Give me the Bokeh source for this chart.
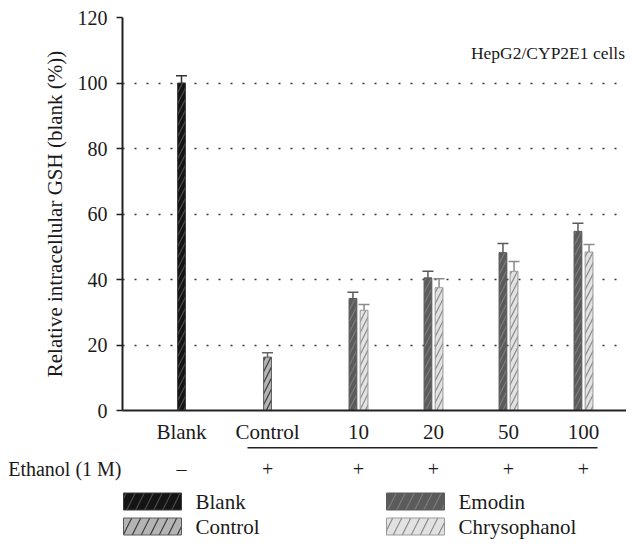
from bokeh.plotting import figure
from bokeh.models import (Range1d, FixedTicker, CustomJSTickFormatter, Whisker,
                          TeeHead, ColumnDataSource)
from bokeh.layouts import column
from bokeh.embed import file_html
from bokeh.resources import INLINE
from bokeh.core.properties import value

# ---------------- data ----------------
categories = ["Blank", "Control", "10", "20", "50", "100"]
ethanol = ["\u2013", "+", "+", "+", "+", "+"]
blank_mean = [100.0]
blank_err = [2.2]
control_mean = [16.3]
control_err = [1.3]
doses = ["10", "20", "50", "100"]
emodin_mean = [34.2, 40.5, 48.2, 54.7]
emodin_err = [1.9, 2.0, 2.8, 2.5]
chrys_mean = [30.6, 37.5, 42.5, 48.4]
chrys_err = [1.8, 2.7, 3.0, 2.3]
y_ticks = [0, 20, 40, 60, 80, 100, 120]
legend_labels = ["Blank", "Control", "Emodin", "Chrysophanol"]
cell_line = "HepG2/CYP2E1 cells"
y_label = "Relative intracellular GSH (blank (%))"
ethanol_label = "Ethanol (1 M)"

# ---------------- layout / style ----------------
FONT = "Liberation Serif"
FS = "20px"
FS_L = "21px"
TXT = "#1a1a1a"
pos = [0.0, 1.147, 2.36, 3.36, 4.36, 5.36]   # category slot positions
PX = 75.0                                     # px per slot unit
ORIGIN = 181.0                                # px of slot 0
W = 626
LEFT = 122
TOP = 17
FRAME_H = 395
BOTTOM = 34
H1 = TOP + FRAME_H + BOTTOM
H2 = 540 - H1
BW = 0.104
OFF = 0.074

styles = {
    "Blank": dict(fill="#141414", line="#3a3a3a", hatch="#4a4a4a", err="#333333"),
    "Control": dict(fill="#b4b4b4", line="#5a5a5a", hatch="#3a3a3a", err="#666666"),
    "Emodin": dict(fill="#5b5b5b", line="#5b5b5b", hatch="#7c7c7c", err="#5a5a5a"),
    "Chrysophanol": dict(fill="#e2e2e2", line="#9a9a9a", hatch="#8a8a8a", err="#8a8a8a"),
}

x_lo = (LEFT - ORIGIN) / PX
x_hi = (W - ORIGIN) / PX

p = figure(width=W, height=H1, x_range=Range1d(x_lo, x_hi), y_range=Range1d(0, 120),
           output_backend="svg", toolbar_location=None,
           min_border_left=LEFT, min_border_right=0, min_border_top=TOP,
           min_border_bottom=BOTTOM)
p.outline_line_color = None
p.background_fill_color = "white"
p.border_fill_color = "white"

# y axis
yax = p.yaxis[0]
yax.ticker = FixedTicker(ticks=y_ticks)
yax.axis_label = y_label
yax.axis_label_text_font = FONT
yax.axis_label_text_font_size = FS_L
yax.axis_label_text_font_style = "normal"
yax.axis_label_text_color = TXT
yax.axis_label_standoff = 8
yax.major_label_text_font = FONT
yax.major_label_text_font_size = FS
yax.major_label_text_color = TXT
yax.major_label_standoff = 9
yax.major_tick_out = 6
yax.major_tick_in = 0
yax.minor_tick_out = 0
yax.minor_tick_in = 0
yax.axis_line_width = 2
yax.axis_line_color = "#222222"
yax.major_tick_line_width = 1.5
yax.major_tick_line_color = "#222222"

# x axis
xax = p.xaxis[0]
xax.ticker = FixedTicker(ticks=pos)
xax.formatter = CustomJSTickFormatter(args=dict(labels=categories), code="return labels[index];")
xax.major_label_text_font = FONT
xax.major_label_text_font_size = FS_L
xax.major_label_text_color = TXT
xax.major_label_standoff = 9
xax.major_tick_out = 0
xax.major_tick_in = 0
xax.minor_tick_out = 0
xax.minor_tick_in = 0
xax.axis_line_width = 2
xax.axis_line_color = "#222222"

p.xgrid.visible = False
p.ygrid.ticker = FixedTicker(ticks=y_ticks[1:])
p.ygrid.grid_line_color = "#333333"
p.ygrid.grid_line_dash = "2 10"
p.ygrid.grid_line_width = 1.5


def bars(xs, means, errs, name):
    s = styles[name]
    p.vbar(x=xs, top=means, width=BW, bottom=0, fill_color=s["fill"], line_color=s["line"],
           line_width=1, hatch_pattern="/", hatch_color=s["hatch"], hatch_scale=11,
           hatch_weight=1.2)
    src = ColumnDataSource(dict(x=xs, lo=means, hi=[m + e for m, e in zip(means, errs)]))
    w = Whisker(source=src, base="x", lower="lo", upper="hi", line_color=s["err"],
                line_width=1.5, lower_head=None,
                upper_head=TeeHead(size=11, line_color=s["err"], line_width=1.5))
    p.add_layout(w)


bars([pos[0]], blank_mean, blank_err, "Blank")
bars([pos[1]], control_mean, control_err, "Control")
bars([x - OFF for x in pos[2:]], emodin_mean, emodin_err, "Emodin")
bars([x + OFF for x in pos[2:]], chrys_mean, chrys_err, "Chrysophanol")

p.text(x=[x_hi - 0.02], y=[109.3], text=[cell_line], text_font=value(FONT),
       text_font_size="17.5px", text_color=TXT, text_align="right", text_baseline="middle")

# ---------------- lower panel: ethanol row + legend ----------------
ROW_Y = 22
q = figure(width=W, height=H2, x_range=p.x_range,
           y_range=Range1d(H2, 0), output_backend="svg", toolbar_location=None,
           min_border_left=LEFT, min_border_right=0, min_border_top=0, min_border_bottom=0,
           x_axis_type=None)
q.outline_line_color = None
q.grid.visible = False
q.background_fill_color = "white"
q.border_fill_color = "white"

qy = q.yaxis[0]
qy.ticker = FixedTicker(ticks=[ROW_Y])
qy.formatter = CustomJSTickFormatter(args=dict(label=ethanol_label), code="return label;")
qy.axis_line_color = None
qy.major_tick_out = 0
qy.major_tick_in = 0
qy.minor_tick_out = 0
qy.minor_tick_in = 0
qy.major_label_standoff = 1
qy.major_label_text_font = FONT
qy.major_label_text_font_size = FS
qy.major_label_text_color = TXT

# underline over the ethanol-treated groups
q.segment(x0=[pos[1] - 0.267], x1=[pos[-1] + 0.187], y0=[1.2], y1=[1.2],
          line_color="#222222", line_width=1.6)

q.text(x=pos, y=[ROW_Y] * len(pos), text=ethanol, text_font=value(FONT),
       text_font_size=FS, text_color=TXT, text_align="center", text_baseline="middle")

# legend
col_x = [(152 - ORIGIN) / PX, (152 - ORIGIN) / PX, (415 - ORIGIN) / PX, (415 - ORIGIN) / PX]
row_ys = [55, 80, 55, 80]
leg = ColumnDataSource(dict(
    x=col_x, y=row_ys, label=legend_labels,
    fill=[styles[n]["fill"] for n in legend_labels],
    line=[styles[n]["line"] for n in legend_labels],
    hatch=[styles[n]["hatch"] for n in legend_labels],
))
q.rect(x="x", y="y", width=58, height=17, width_units="screen", height_units="screen",
       fill_color="fill", line_color="line", line_width=1, hatch_pattern="/",
       hatch_color="hatch", hatch_scale=18, hatch_weight=1.2, source=leg)
q.text(x="x", y="y", text="label", x_offset=43, text_font=value(FONT), text_font_size=FS_L,
       text_color=TXT, text_align="left", text_baseline="middle", source=leg)

layout = column(p, q, spacing=0)
open("out.html", "w").write(file_html(layout, INLINE))
